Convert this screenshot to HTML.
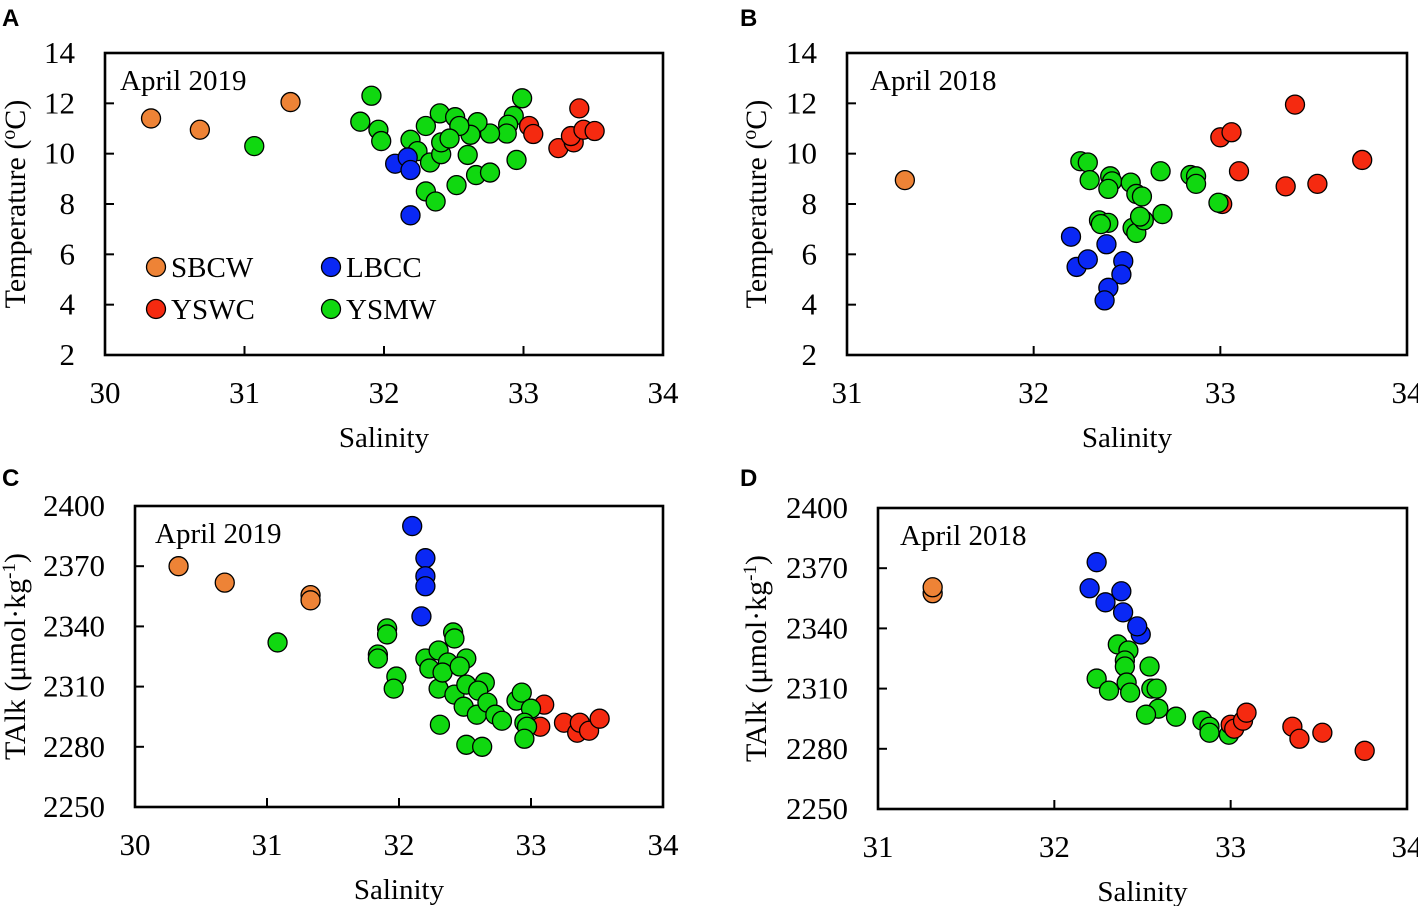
<!DOCTYPE html>
<html><head><meta charset="utf-8"><style>
body{margin:0;background:#fff;}
svg{display:block;}
</style></head><body>
<svg id="fig" width="1418" height="906" viewBox="0 0 1418 906" xmlns="http://www.w3.org/2000/svg" font-family="'Liberation Serif', serif"></svg>
<script>
// Panel A: Temperature vs Salinity, April 2019
const aSBCWx=[30.33,30.68,31.33];
const aSBCWy=[11.4,10.95,12.05];
const aLBCCx=[32.08,32.17,32.19,32.19];
const aLBCCy=[9.6,9.85,9.35,7.55];
const aYSWCx=[33.4,33.04,33.07,33.25,33.36,33.34,33.43,33.51];
const aYSWCy=[11.8,11.1,10.78,10.22,10.45,10.7,10.95,10.9];
const aYSMWx=[31.07,31.91,31.83,31.96,31.98,32.19,32.3,32.4,32.51,32.24,32.33,32.41,32.41,32.6,32.3,32.37,32.52,32.66,32.76,32.95,32.99,32.93,32.89,32.88,32.76,32.67,32.62,32.54,32.47];
const aYSMWy=[10.3,12.3,11.27,10.95,10.5,10.55,11.1,11.6,11.45,10.1,9.65,9.98,10.45,9.95,8.5,8.1,8.75,9.15,9.25,9.75,12.2,11.5,11.15,10.8,10.8,11.25,10.75,11.1,10.6];
// Panel B: Temperature vs Salinity, April 2018
const bSBCWx=[31.31];
const bSBCWy=[8.95];
const bLBCCx=[32.2,32.23,32.29,32.39,32.48,32.47,32.4,32.38];
const bLBCCy=[6.7,5.5,5.8,6.4,5.73,5.2,4.67,4.17];
const bYSMWx=[32.25,32.29,32.3,32.41,32.42,32.4,32.52,32.55,32.58,32.68,32.69,32.84,32.87,32.87,32.35,32.4,32.36,32.53,32.55,32.59,32.57];
const bYSMWy=[9.7,9.65,8.95,9.1,8.9,8.6,8.85,8.4,8.3,9.3,7.6,9.15,9.1,8.8,7.35,7.25,7.2,7.05,6.85,7.35,7.5];
const bYSWCx=[33.4,33.0,33.06,33.1,33.01,33.35,33.52,33.76];
const bYSWCy=[11.95,10.65,10.85,9.3,8.0,8.7,8.8,9.75];
const bYSMW2x=[32.99];
const bYSMW2y=[8.05];
// Panel C: TAlk vs Salinity, April 2019
const cSBCWx=[30.33,30.68,31.33,31.33];
const cSBCWy=[2370,2361.8,2355.6,2353];
const cLBCCx=[32.1,32.2,32.2,32.2,32.17];
const cLBCCy=[2390,2374,2365,2360,2345];
const cYSWCx=[33.1,33.07,33.25,33.35,33.37,33.44,33.52];
const cYSWCy=[2301,2290,2292,2287,2292,2288,2294];
const cYSMWx=[31.08,31.91,31.91,31.84,31.84,31.98,31.96,32.2,32.3,32.23,32.37,32.51,32.41,32.42,32.3,32.33,32.42,32.46,32.51,32.49,32.59,32.65,32.6,32.67,32.73,32.78,32.89,32.93,33.0,32.95,32.97,32.95,32.31,32.51,32.63];
const cYSMWy=[2332,2339,2336,2326,2324,2315,2309,2324,2328,2319,2322,2324,2337,2334,2309,2317,2306,2320,2311,2300,2296,2312,2308,2302,2296,2293,2303,2307,2299,2292,2290,2284,2291,2281,2280];
// Panel D: TAlk vs Salinity, April 2018
const dSBCWx=[31.31,31.31];
const dSBCWy=[2357.5,2360.5];
const dLBCCx=[32.24,32.2,32.29,32.38,32.39,32.49,32.47];
const dLBCCy=[2373,2360,2353,2358.5,2348,2337,2341];
const dYSWCx=[33.0,33.02,33.07,33.09,33.35,33.39,33.52,33.76];
const dYSWCy=[2292,2290,2294,2298,2291,2285,2288,2279];
const dYSMWx=[32.36,32.42,32.4,32.4,32.24,32.31,32.41,32.43,32.54,32.55,32.58,32.59,32.52,32.69,32.84,32.88,32.88,32.99];
const dYSMWy=[2332,2329,2324,2321,2315,2309,2313,2308,2321,2310,2310,2300,2297,2296,2294,2291,2288,2287];
const aXTicks=[30,31,32,33,34], bXTicks=[31,32,33,34];
const tTicks=[2,4,6,8,10,12,14];
const taTicks=[2250,2280,2310,2340,2370,2400];

const COL={SBCW:'#ee8336',LBCC:'#0a28f5',YSWC:'#f52a10',YSMW:'#10d810'};
const SERIF="'Liberation Serif', serif";
const NS='http://www.w3.org/2000/svg';
const svg=document.getElementById('fig');
function mk(tag,attrs,parent){const e=document.createElementNS(NS,tag);for(const k in attrs)e.setAttribute(k,attrs[k]);(parent||svg).appendChild(e);return e;}

function panel(P){
  const g=mk('g',{});
  
  
  const sx=v=>P.x0+(v-P.xmin)/(P.xmax-P.xmin)*(P.x1-P.x0);
  const sy=v=>P.y1-(v-P.ymin)/(P.ymax-P.ymin)*(P.y1-P.y0);
  const lt=mk('text',{x:P.letterX,y:P.letterY,'font-size':24,'font-weight':'bold','font-family':"'Liberation Sans', sans-serif"},g);
  lt.textContent=P.id;
  
  
  P.xt.forEach(v=>{
    const t=mk('line',{x1:sx(v),x2:sx(v),y1:P.y1,y2:P.y1-9,stroke:'#000','stroke-width':2},g);
    
    
    const l=mk('text',{x:sx(v),y:P.y1+48,'font-size':31,'text-anchor':'middle','font-family':SERIF},g);
    l.textContent=v;
    
    
  });
  P.yt.forEach(v=>{
    const t=mk('line',{x1:P.x0,x2:P.x0+9,y1:sy(v),y2:sy(v),stroke:'#000','stroke-width':2},g);
    
    
    const l=mk('text',{x:P.x0-30,y:sy(v)+10,'font-size':31,'text-anchor':'end','font-family':SERIF},g);
    l.textContent=v;
    
    
  });
  const xt=mk('text',{x:(P.x0+P.x1)/2,y:P.y1+92,'font-size':29,'text-anchor':'middle','font-family':SERIF},g);
  xt.textContent='Salinity';
  
  
  const yt=mk('text',{x:0,y:0,'font-size':30,'text-anchor':'middle','font-family':SERIF,transform:`translate(${P.ytX},${(P.y0+P.y1)/2}) rotate(-90)`},g);
  yt.innerHTML=P.ytitle;
  
  
  const ann=mk('text',{x:P.x0+P.annDx,y:P.y0+37,'font-size':29,'font-family':SERIF},g);
  ann.textContent=P.ann;
  
  
  P.series.forEach(s=>{
    s.xs.forEach((v,i)=>{
      const c=mk('circle',{cx:sx(v),cy:sy(s.ys[i]),r:9.5,fill:COL[s.name],stroke:'#000','stroke-width':1.3},g);
      
      
    });
  });
  const b=mk('rect',{x:P.x0,y:P.y0,width:P.x1-P.x0,height:P.y1-P.y0,fill:'none',stroke:'#000','stroke-width':2.6},g);
  
  
}
const TT='Temperature (<tspan font-size="20" dy="-10">o</tspan><tspan dy="10">C)</tspan>';
const TA='TAlk (μmol·kg<tspan dy="-10" font-size="19">-1</tspan><tspan dy="10">)</tspan>';
panel({id:'A',letterX:2,letterY:26,x0:105,x1:663,y0:53,y1:355,xmin:30,xmax:34,ymin:2,ymax:14,xt:aXTicks,yt:tTicks,ytX:25,ytitle:TT,ann:'April 2019',annDx:15,
  series:[{name:'SBCW',xs:aSBCWx,ys:aSBCWy},{name:'YSMW',xs:aYSMWx,ys:aYSMWy},{name:'LBCC',xs:aLBCCx,ys:aLBCCy},{name:'YSWC',xs:aYSWCx,ys:aYSWCy}]});
panel({id:'B',letterX:740,letterY:26,x0:847,x1:1407,y0:53,y1:355,xmin:31,xmax:34,ymin:2,ymax:14,xt:bXTicks,yt:tTicks,ytX:766,ytitle:TT,ann:'April 2018',annDx:23,
  series:[{name:'SBCW',xs:bSBCWx,ys:bSBCWy},{name:'LBCC',xs:bLBCCx,ys:bLBCCy},{name:'YSWC',xs:bYSWCx,ys:bYSWCy},{name:'YSMW',xs:bYSMWx,ys:bYSMWy},{name:'YSMW',xs:bYSMW2x,ys:bYSMW2y}]});
panel({id:'C',letterX:2,letterY:486,x0:135,x1:663,y0:506,y1:807,xmin:30,xmax:34,ymin:2250,ymax:2400,xt:aXTicks,yt:taTicks,ytX:25,ytitle:TA,ann:'April 2019',annDx:20,
  series:[{name:'SBCW',xs:cSBCWx,ys:cSBCWy},{name:'LBCC',xs:cLBCCx,ys:cLBCCy},{name:'YSWC',xs:cYSWCx,ys:cYSWCy},{name:'YSMW',xs:cYSMWx,ys:cYSMWy}]});
panel({id:'D',letterX:740,letterY:486,x0:878,x1:1407,y0:508,y1:809,xmin:31,xmax:34,ymin:2250,ymax:2400,xt:bXTicks,yt:taTicks,ytX:766,ytitle:TA,ann:'April 2018',annDx:22,
  series:[{name:'SBCW',xs:dSBCWx,ys:dSBCWy},{name:'LBCC',xs:dLBCCx,ys:dLBCCy},{name:'YSMW',xs:dYSMWx,ys:dYSMWy},{name:'YSWC',xs:dYSWCx,ys:dYSWCy}]});

// Legend (panel A)
const legNames=['SBCW','LBCC','YSWC','YSMW'];
const legX=[156,331,156,331], legY=[267,267,309,309];
legNames.forEach((n,i)=>{
  const g=mk('g',{});
  
  
  const c=mk('circle',{cx:legX[i],cy:legY[i],r:9.5,fill:COL[n],stroke:'#000','stroke-width':1.3},g);
  
  
  const t=mk('text',{x:legX[i]+15,y:legY[i]+10,'font-size':29,'font-family':SERIF},g);
  t.textContent=n;
  
  
});
</script>
</body></html>
